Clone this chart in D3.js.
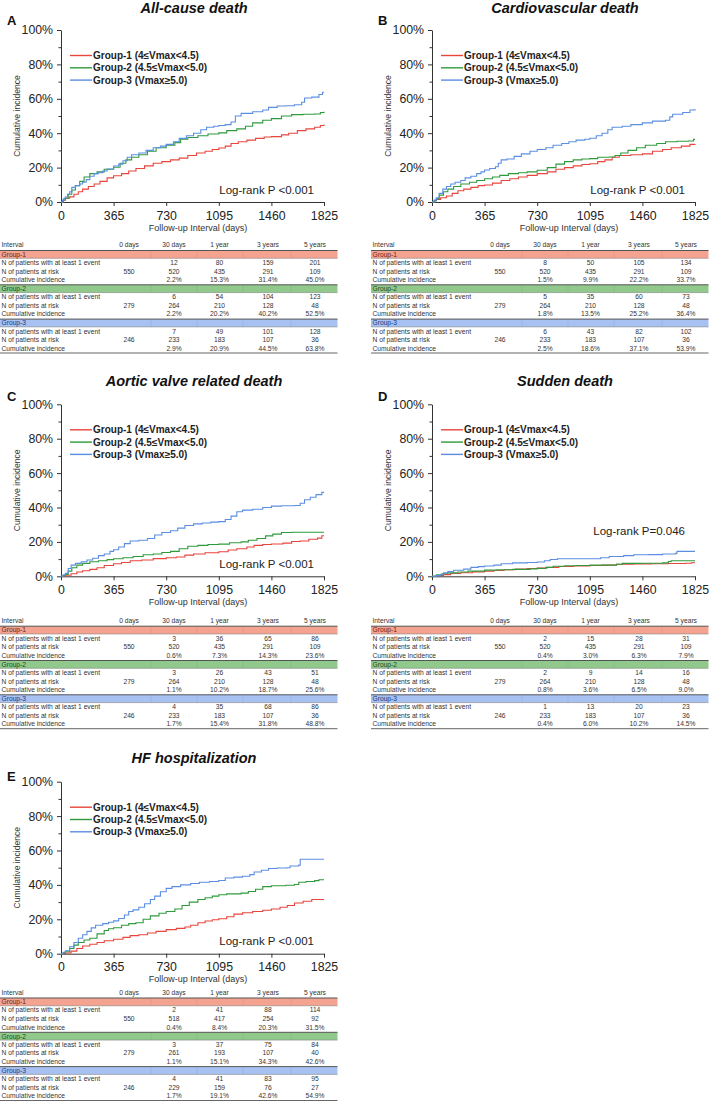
<!DOCTYPE html>
<html><head><meta charset="utf-8">
<script src="https://cdn.jsdelivr.net/npm/d3@7"></script>
<style>
body{margin:0;background:#fff;}
svg{display:block;font-family:"Liberation Sans",Arial,Helvetica,sans-serif;}
</style></head>
<body><svg id="c" width="709" height="1106"></svg>
<script>
// ---------- shared data ----------
const xTickDays = [0, 365, 730, 1095, 1460, 1825];
const yTicksPct = [0, 20, 40, 60, 80, 100];
const yMinorPct = [10, 30, 50, 70, 90];
const groupLegend = ["Group-1 (4\u2264Vmax<4.5)", "Group-2 (4.5\u2264Vmax<5.0)", "Group-3 (Vmax\u22655.0)"];
const groupBand = ["Group-1", "Group-2", "Group-3"];
const intervalCols = ["0 days", "30 days", "1 year", "3 years", "5 years"];
const rowLabels = ["N of patients with at least 1 event", "N of patients at risk", "Cumulative incidence"];
const atRiskStart = [550, 279, 246];
const lineColors = ["#e8453c", "#2f9a3c", "#5b8ee2"];
const bandColors = ["#f4a391", "#90c98b", "#a7c1f2"];
const bandText = ["#6a1f14", "#1d4a1d", "#1d3a7a"];

// ---------- Panel A: All-cause death ----------
const titleA = "All-cause death";
const pA = "Log-rank P <0.001";
const curveA1 = [[0,0],[15,1],[30,2.2],[60,3],[90,4.5],[120,6],[150,7.5],[190,9],[230,10.5],[270,12],[320,14],[365,15.3],[420,16.5],[470,18],[520,19.5],[580,21],[640,22.5],[700,23.5],[760,24.5],[820,25.5],[880,27],[940,28.5],[1000,29.5],[1050,30.5],[1095,31.4],[1140,32.5],[1180,34],[1230,35],[1290,36],[1350,37],[1410,37.8],[1460,38],[1530,39],[1580,40],[1640,41.5],[1700,42.5],[1760,43.5],[1800,44.5],[1825,45]];
const curveA2 = [[0,0],[15,1.2],[30,2.2],[50,4.5],[75,7],[100,9.5],[130,12],[160,14.5],[200,16.5],[250,17.5],[300,19],[365,20.2],[410,22.5],[450,24.5],[490,26],[540,27.5],[600,29.5],[660,31.5],[730,33],[790,34.5],[830,36.5],[880,37.5],[950,38.5],[1020,39.5],[1095,40.2],[1150,41.5],[1220,42.5],[1280,44],[1330,46],[1400,47.5],[1460,48.5],[1530,50],[1600,50.8],[1680,51],[1760,51.2],[1800,52],[1825,52.5]];
const curveA3 = [[0,0],[10,1.2],[20,2.2],[30,2.9],[45,4.5],[60,6],[75,8.5],[100,9.5],[130,10.5],[150,11.5],[175,13],[200,15],[230,16.5],[260,17],[290,18],[320,19.2],[365,20.9],[400,22],[430,24],[460,26],[490,27.5],[540,28.5],[590,30],[640,31.5],[690,32.5],[730,33.5],[780,35],[820,37],[870,38.5],[920,40],[970,42],[1010,43.5],[1060,44],[1095,44.5],[1140,45],[1180,46.5],[1210,50],[1250,51.5],[1330,52.5],[1400,53.5],[1440,55],[1500,55.8],[1560,56],[1620,56.5],[1670,58],[1690,60.5],[1740,61],[1790,62.5],[1815,63.8],[1825,63.8]];
const eventsA = [[12,80,159,201],[6,54,104,123],[7,49,101,128]];
const riskA = [[520,435,291,109],[264,210,128,48],[233,183,107,36]];
const cumA = [["2.2%","15.3%","31.4%","45.0%"],["2.2%","20.2%","40.2%","52.5%"],["2.9%","20.9%","44.5%","63.8%"]];

// ---------- Panel B: Cardiovascular death ----------
const titleB = "Cardiovascular death";
const pB = "Log-rank P <0.001";
const curveB1 = [[0,0],[20,0.8],[30,1.5],[60,2.5],[100,3.5],[140,5],[180,6.5],[220,7.5],[270,8.5],[320,9.5],[365,9.9],[420,11],[480,12.5],[540,13.5],[600,14.5],[660,15.5],[730,16.5],[800,17.5],[860,19],[920,20],[980,21],[1040,21.8],[1095,22.2],[1150,23.5],[1200,24.5],[1250,26],[1300,27],[1380,27.5],[1460,28],[1530,29.5],[1600,30.5],[1660,31.5],[1730,32.5],[1790,33.5],[1825,33.7]];
const curveB2 = [[0,0],[15,0.8],[30,1.8],[50,4],[80,6],[110,7.5],[150,9],[200,10.5],[260,11.5],[310,12.5],[365,13.5],[420,14.5],[470,15.5],[530,16.5],[600,17],[660,17.5],[730,18.5],[800,20],[860,22],[920,23.5],[980,24.5],[1040,25],[1095,25.2],[1150,26],[1230,26.2],[1270,27],[1310,28.5],[1360,30],[1420,31.5],[1480,33],[1560,34],[1620,35],[1700,35.3],[1780,35.5],[1815,36.4],[1825,36.4]];
const curveB3 = [[0,0],[15,1.2],[30,2.5],[50,5],[75,7.5],[100,9],[130,10.5],[160,11.5],[200,12.5],[230,14],[270,15],[310,16.5],[340,17.5],[365,18.6],[400,19.5],[440,20.5],[460,22.5],[480,24.5],[520,25],[570,26.5],[620,28],[680,29.5],[730,30.5],[790,31.5],[840,33],[900,34],[950,35],[1000,36],[1060,36.5],[1095,37.1],[1140,38.5],[1180,40],[1220,42],[1250,43.5],[1320,44],[1380,45],[1460,46],[1530,47],[1620,47.5],[1650,49.5],[1670,51],[1740,52],[1790,53.5],[1825,54]];
const eventsB = [[8,50,105,134],[5,35,60,73],[6,43,82,102]];
const riskB = [[520,435,291,109],[264,210,128,48],[233,183,107,36]];
const cumB = [["1.5%","9.9%","22.2%","33.7%"],["1.8%","13.5%","25.2%","36.4%"],["2.5%","18.6%","37.1%","53.9%"]];

// ---------- Panel C: Aortic valve related death ----------
const titleC = "Aortic valve related death";
const pC = "Log-rank P <0.001";
const curveC1 = [[0,0],[20,0.3],[30,0.6],[70,1.5],[110,2.5],[150,3.2],[200,4],[250,5],[300,6.3],[365,7.3],[420,8],[480,9],[560,9.5],[640,10.3],[730,10.8],[800,11.2],[860,12.3],[920,13],[1000,13.7],[1095,14.3],[1160,15.3],[1220,16],[1290,17],[1340,18],[1400,18.5],[1460,18.8],[1540,19.3],[1600,20.2],[1660,20.5],[1720,21.5],[1780,22.2],[1810,23.6],[1825,23.6]];
const curveC2 = [[0,0],[15,0.5],[30,1.1],[50,3],[75,5],[110,6.5],[150,7.5],[200,8.5],[260,9],[320,9.7],[365,10.2],[430,10.8],[500,11.5],[570,12.5],[640,13],[700,13.8],[760,14.5],[820,16],[880,17.5],[950,18],[1020,18.5],[1095,18.7],[1170,19.5],[1250,20],[1300,21],[1360,22],[1420,23.5],[1470,24.5],[1530,25.5],[1600,25.6],[1825,25.6]];
const curveC3 = [[0,0],[15,0.8],[30,1.7],[50,4.5],[70,6.5],[100,7.5],[140,8.5],[180,9.5],[220,10.5],[260,12],[300,13],[340,14.5],[365,15.4],[400,17],[440,19],[480,20.5],[540,21],[600,22],[650,24],[700,25.5],[760,26.5],[810,28],[860,29.5],[920,30.5],[980,31],[1040,31.5],[1095,31.8],[1140,33],[1180,35],[1220,37.5],[1260,38.5],[1330,39],[1400,40],[1460,40.8],[1530,41],[1620,41.2],[1660,42.5],[1690,44.5],[1730,46],[1770,47.5],[1810,48.8],[1825,48.8]];
const eventsC = [[3,36,65,86],[3,26,43,51],[4,35,68,86]];
const riskC = [[520,435,291,109],[264,210,128,48],[233,183,107,36]];
const cumC = [["0.6%","7.3%","14.3%","23.6%"],["1.1%","10.2%","18.7%","25.6%"],["1.7%","15.4%","31.8%","48.8%"]];

// ---------- Panel D: Sudden death ----------
const titleD = "Sudden death";
const pD = "Log-rank P=0.046";
const curveD1 = [[0,0],[30,0.4],[80,1],[130,1.6],[200,2.1],[280,2.6],[365,3],[430,3.4],[500,3.8],[580,4.2],[660,4.5],[730,4.8],[800,5.2],[880,5.7],[980,6],[1095,6.3],[1180,6.5],[1280,7],[1400,7.2],[1520,7.3],[1640,7.4],[1760,7.6],[1800,7.9],[1825,7.9]];
const curveD2 = [[0,0],[30,0.8],[70,1.5],[110,2],[180,2.5],[250,3],[365,3.6],[450,3.8],[560,4],[680,4.3],[730,4.6],[790,5.2],[840,5.8],[920,6.1],[1000,6.3],[1095,6.5],[1200,6.5],[1280,7],[1320,7.5],[1450,7.6],[1600,7.8],[1640,8.6],[1660,9],[1825,9]];
const curveD3 = [[0,0],[30,0.4],[60,1.2],[80,2],[110,2.7],[150,3.5],[220,4.2],[270,5.2],[320,5.6],[365,6],[430,6.5],[480,7.3],[560,7.8],[660,8],[730,8.3],[780,9],[820,9.8],[870,10.2],[950,10.2],[1095,10.2],[1170,10.8],[1230,11.5],[1330,12],[1400,12.5],[1500,12.6],[1600,13],[1690,13.3],[1700,14.5],[1825,14.5]];
const eventsD = [[2,15,28,31],[2,9,14,16],[1,13,20,23]];
const riskD = [[520,435,291,109],[264,210,128,48],[233,183,107,36]];
const cumD = [["0.4%","3.0%","6.3%","7.9%"],["0.8%","3.6%","6.5%","9.0%"],["0.4%","6.0%","10.2%","14.5%"]];

// ---------- Panel E: HF hospitalization ----------
const titleE = "HF hospitalization";
const pE = "Log-rank P <0.001";
const curveE1 = [[0,0],[20,0.2],[30,0.4],[70,1.5],[110,3],[150,4.5],[200,5.5],[250,6.5],[300,7.5],[365,8.4],[430,9.5],[480,10.5],[540,11],[600,12],[660,13],[730,14],[800,14.7],[860,15.5],[900,16.5],[950,18],[1000,19],[1050,19.7],[1095,20.3],[1150,21.5],[1200,23],[1260,23.8],[1330,24.5],[1400,25.3],[1460,26],[1520,27],[1570,28],[1620,29.5],[1680,30.5],[1740,31.5],[1825,31.5]];
const curveE2 = [[0,0],[15,0.5],[30,1.1],[60,3],[90,5],[120,6.5],[160,8],[200,9],[250,11.5],[300,13.5],[330,14.5],[365,15.1],[420,16.5],[470,17.5],[520,18],[570,20],[620,22],[680,23.5],[730,24.5],[790,26],[840,28],[890,30],[950,31.5],[1000,32.5],[1050,33.5],[1095,34.3],[1150,34.8],[1250,35.2],[1300,36.2],[1350,37.5],[1400,39],[1460,39.5],[1560,39.8],[1620,40.2],[1650,41.5],[1700,42],[1760,42.5],[1790,43],[1825,43]];
const curveE3 = [[0,0],[15,0.8],[30,1.7],[60,4],[90,6.5],[120,9],[150,11],[180,13],[210,15],[240,16.5],[290,17.5],[330,18.3],[365,19.1],[400,20.5],[440,22.5],[470,24.5],[500,25.5],[540,27],[580,29],[620,31.5],[650,33.5],[690,36],[730,38],[770,39],[830,40],[900,40.8],[960,41.5],[1030,42],[1095,42.6],[1140,44],[1200,44.5],[1260,45],[1310,46],[1340,47.5],[1390,48.5],[1440,49.5],[1500,49.8],[1570,50],[1590,51],[1650,51.5],[1660,54.9],[1825,54.9]];
const eventsE = [[2,41,88,114],[3,37,75,84],[4,41,83,95]];
const riskE = [[518,417,254,92],[261,193,107,40],[229,159,76,27]];
const cumE = [["0.4%","8.4%","20.3%","31.5%"],["1.1%","15.1%","34.3%","42.6%"],["1.7%","19.1%","42.6%","54.9%"]];

// ---------- drawing ----------
const svg = d3.select("#c");
svg.append("rect").attr("width",709).attr("height",1106).attr("fill","#fff");

const panels = [
  {letter:"A", ox:0,   top:30,    titleY:12.5, letterY:25, tableY:245,   pY:194, title:titleA, p:pA, curves:[curveA1,curveA2,curveA3], ev:eventsA, risk:riskA, cum:cumA},
  {letter:"B", ox:371, top:30,    titleY:12.5, letterY:25, tableY:245,   pY:194, title:titleB, p:pB, curves:[curveB1,curveB2,curveB3], ev:eventsB, risk:riskB, cum:cumB},
  {letter:"C", ox:0,   top:404.3, titleY:386,  letterY:400.5, tableY:620.7, pY:568, title:titleC, p:pC, curves:[curveC1,curveC2,curveC3], ev:eventsC, risk:riskC, cum:cumC},
  {letter:"D", ox:371, top:404.3, titleY:386,  letterY:400.5, tableY:620.7, pY:535, title:titleD, p:pD, curves:[curveD1,curveD2,curveD3], ev:eventsD, risk:riskD, cum:cumD},
  {letter:"E", ox:0,   top:781.7, titleY:763,  letterY:780.5, tableY:992.5, pY:945, title:titleE, p:pE, curves:[curveE1,curveE2,curveE3], ev:eventsE, risk:riskE, cum:cumE}
];

const PH = 172;
panels.forEach(P => {
  const g = svg.append("g");
  const x = d3.scaleLinear().domain([0,1825]).range([P.ox+61, P.ox+324]);
  const y = d3.scaleLinear().domain([0,100]).range([P.top+PH, P.top]);

  // title & letter
  g.append("text").attr("x",P.ox+194).attr("y",P.titleY).attr("text-anchor","middle")
    .attr("font-size",14.5).attr("font-weight","bold").attr("font-style","italic").attr("fill","#111").text(P.title);
  g.append("text").attr("x",P.ox+7).attr("y",P.letterY).attr("font-size",13).attr("font-weight","bold").attr("fill","#111").text(P.letter);

  // y axis
  const ya = g.append("g").attr("transform",`translate(${P.ox+61},0)`)
    .call(d3.axisLeft(y).tickValues(yTicksPct).tickFormat(d=>d+"%").tickSize(4).tickSizeOuter(0).tickPadding(4));
  const ym = g.append("g").attr("transform",`translate(${P.ox+61},0)`)
    .call(d3.axisLeft(y).tickValues(yMinorPct).tickFormat("").tickSize(2.5).tickSizeOuter(0));
  ym.select(".domain").remove();
  // x axis
  const xa = g.append("g").attr("transform",`translate(0,${P.top+PH})`)
    .call(d3.axisBottom(x).tickValues(xTickDays).tickFormat(d=>String(d)).tickSize(4).tickSizeOuter(0).tickPadding(5));
  [ya,ym,xa].forEach(a=>{
    a.selectAll("path,line").attr("stroke","#333").attr("stroke-width",1);
    a.selectAll("text").attr("font-size",12.3).attr("fill","#222").attr("font-family","Liberation Sans, Arial, sans-serif");
  });

  // axis titles
  g.append("text").attr("transform",`translate(${P.ox+20},${P.top+PH/2}) rotate(-90)`).attr("text-anchor","middle")
    .attr("font-size",8.6).attr("fill","#333").text("Cumulative incidence");
  g.append("text").attr("x",P.ox+198).attr("y",P.top+PH+28.5).attr("text-anchor","middle")
    .attr("font-size",9).attr("fill","#333").text("Follow-up Interval (days)");

  // curves
  const line = d3.line().x(d=>x(d[0])).y(d=>y(d[1])).curve(d3.curveStepAfter);
  P.curves.forEach((c,i)=>{
    g.append("path").datum(c).attr("d",line).attr("fill","none").attr("stroke",lineColors[i]).attr("stroke-width",1.1);
  });

  // legend
  groupLegend.forEach((t,i)=>{
    const ly = P.top+25.5+i*12.3;
    g.append("line").attr("x1",P.ox+70).attr("x2",P.ox+92).attr("y1",ly).attr("y2",ly).attr("stroke",lineColors[i]).attr("stroke-width",1.4);
    g.append("text").attr("x",P.ox+93).attr("y",ly+3.6).attr("font-size",10).attr("font-weight","bold").attr("fill","#222").text(t);
  });

  // log-rank
  g.append("text").attr("x",P.ox+314).attr("y",P.pY).attr("text-anchor","end").attr("font-size",11.5).attr("fill","#222").text(P.p);

  // ---- table ----
  const t = svg.append("g").attr("font-size",6.7).attr("fill","#333");
  const colX = [129,174,219.5,268,315].map(v=>P.ox+v);
  const L = P.ox+1.5, W = 337.5;
  t.append("text").attr("x",L).attr("y",P.tableY+2.4).text("Interval");
  intervalCols.forEach((c,j)=> t.append("text").attr("x",colX[j]).attr("y",P.tableY+2.4).attr("text-anchor","middle").text(c));
  for (let k=0;k<3;k++){
    const bt = P.tableY+5.5+k*34.3;
    t.append("rect").attr("x",P.ox).attr("y",bt).attr("width",W).attr("height",7.8).attr("fill",bandColors[k]);
    [151,197,243,291].forEach(v=> t.append("line").attr("x1",P.ox+v).attr("x2",P.ox+v).attr("y1",bt).attr("y2",bt+7.8).attr("stroke","#000").attr("stroke-opacity",0.06));
    t.append("line").attr("x1",P.ox).attr("x2",P.ox+W).attr("y1",bt).attr("y2",bt).attr("stroke","#555").attr("stroke-width",1);
    t.append("line").attr("x1",P.ox).attr("x2",P.ox+W).attr("y1",bt+7.8).attr("y2",bt+7.8).attr("stroke","#777").attr("stroke-width",0.5);
    t.append("text").attr("x",L).attr("y",bt+6.2).attr("fill",bandText[k]).text(groupBand[k]);
    rowLabels.forEach((r,ri)=>{
      const ry = bt+12+ri*8.6+2.4;
      t.append("text").attr("x",L).attr("y",ry).text(r);
      const vals = ri===0 ? P.ev[k] : (ri===1 ? P.risk[k] : P.cum[k]);
      if (ri===1) t.append("text").attr("x",colX[0]).attr("y",ry).attr("text-anchor","middle").text(atRiskStart[k]);
      vals.forEach((v,j)=> t.append("text").attr("x",colX[j+1]).attr("y",ry).attr("text-anchor","middle").text(v));
    });
  }
  t.append("line").attr("x1",P.ox).attr("x2",P.ox+W).attr("y1",P.tableY+108).attr("y2",P.tableY+108).attr("stroke","#666").attr("stroke-width",1);
});
</script>
</body></html>
